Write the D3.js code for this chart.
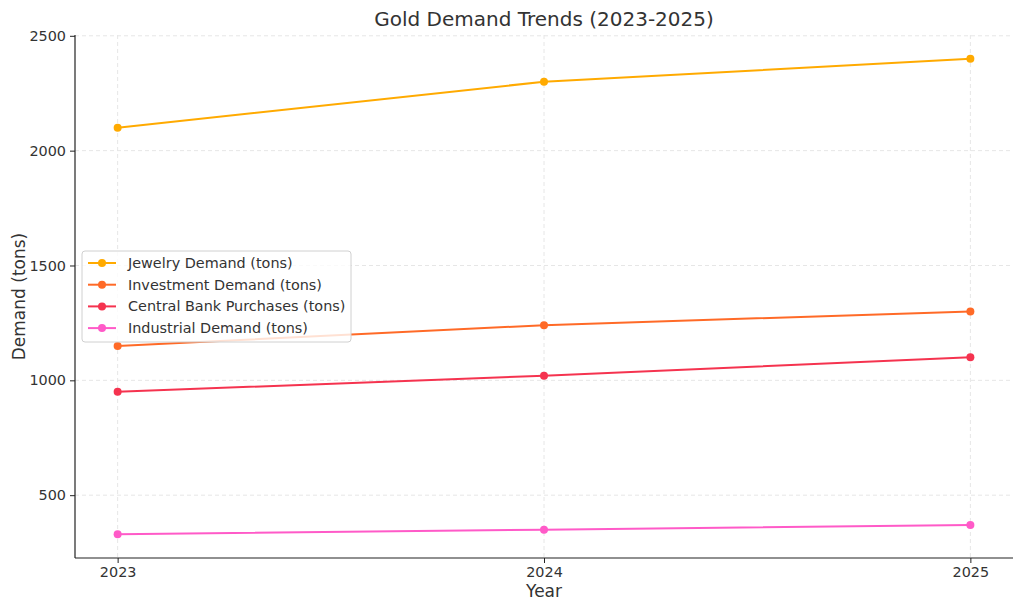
<!DOCTYPE html>
<html><head><meta charset="utf-8">
<script src="https://cdn.jsdelivr.net/npm/d3@7"></script>
<style>
body { margin: 0; background: #fff; }
text { font-family: "DejaVu Sans", sans-serif; fill: #333; }
.grid line { stroke: #e6e6e6; stroke-dasharray: 4,3; }
</style></head><body>
<svg id="chart" width="1024" height="611"></svg>
<script>
const years = [2023, 2024, 2025];
const yTicks = [500, 1000, 1500, 2000, 2500];
const seriesNames = ["Jewelry Demand (tons)", "Investment Demand (tons)", "Central Bank Purchases (tons)", "Industrial Demand (tons)"];
const jewelry = [2100, 2300, 2400];
const investment = [1150, 1240, 1300];
const centralBank = [950, 1020, 1100];
const industrial = [330, 350, 370];
const colors = ["#ffaa00", "#ff6a27", "#f5334f", "#ff5ac8"];

const allSeries = [jewelry, investment, centralBank, industrial];

const svg = d3.select("#chart");
const pLeft = 75, pRight = 1013, pTop = 35, pBottom = 558;

const x = d3.scaleLinear().domain([2022.9, 2025.1]).range([pLeft, pRight]);
const y = d3.scaleLinear().domain([226.5, 2503.5]).range([pBottom, pTop]);

// grid
const grid = svg.append("g").attr("class", "grid");
grid.selectAll(".gx").data(years).enter().append("line")
    .attr("x1", d => x(d)).attr("x2", d => x(d))
    .attr("y1", pTop).attr("y2", pBottom);
grid.selectAll(".gy").data(yTicks).enter().append("line")
    .attr("x1", pLeft).attr("x2", pRight)
    .attr("y1", d => y(d)).attr("y2", d => y(d));

// axes
const xAxis = svg.append("g").attr("transform", `translate(0,${pBottom})`)
    .call(d3.axisBottom(x).tickValues(years).tickFormat(d3.format("d")).tickSizeOuter(0).tickSize(5).tickPadding(4));
const yAxis = svg.append("g").attr("transform", `translate(${pLeft},0)`)
    .call(d3.axisLeft(y).tickValues(yTicks).tickFormat(d3.format("d")).tickSizeOuter(0).tickSize(5).tickPadding(4));
[xAxis, yAxis].forEach(a => {
    a.attr("font-size", null).attr("font-family", null);
    a.select(".domain").attr("stroke", "#222").attr("stroke-width", 1.2);
    a.selectAll(".tick line").attr("stroke", "#222");
    a.selectAll(".tick text").style("font-size", "14.4px").attr("fill", "#333");
});
yAxis.select(".domain").attr("d", `M0,${pTop}V${pBottom}`);
xAxis.select(".domain").attr("d", `M${pLeft},0H${pRight}`);

// lines
const line = d3.line().x((d, i) => x(years[i])).y(d => y(d));
allSeries.forEach((s, k) => {
    svg.append("path").datum(s)
        .attr("fill", "none").attr("stroke", colors[k]).attr("stroke-width", 2)
        .attr("d", line);
    svg.selectAll(".pt" + k).data(s).enter().append("circle")
        .attr("cx", (d, i) => x(years[i])).attr("cy", d => y(d))
        .attr("r", 4).attr("fill", colors[k]);
});

// title and labels
svg.append("text").attr("x", (pLeft + pRight) / 2).attr("y", 26)
    .attr("text-anchor", "middle").style("font-size", "20px").text("Gold Demand Trends (2023-2025)");
svg.append("text").attr("x", (pLeft + pRight) / 2).attr("y", 597)
    .attr("text-anchor", "middle").style("font-size", "17px").text("Year");
svg.append("text").attr("transform", `translate(25,${(pTop + pBottom) / 2}) rotate(-90)`)
    .attr("text-anchor", "middle").style("font-size", "17px").text("Demand (tons)");

// legend
const lg = svg.append("g").attr("transform", "translate(82,251)");
lg.append("rect").attr("width", 269).attr("height", 91).attr("rx", 3)
    .attr("fill", "#fff").attr("fill-opacity", 0.8).attr("stroke", "#d0d0d0");
seriesNames.forEach((name, k) => {
    const yy = 12 + k * 21.7;
    lg.append("line").attr("x1", 6).attr("x2", 34).attr("y1", yy).attr("y2", yy)
        .attr("stroke", colors[k]).attr("stroke-width", 2);
    lg.append("circle").attr("cx", 20).attr("cy", yy).attr("r", 4).attr("fill", colors[k]);
    lg.append("text").attr("x", 46).attr("y", yy + 5).style("font-size", "14.4px").text(name);
});
</script></body></html>
